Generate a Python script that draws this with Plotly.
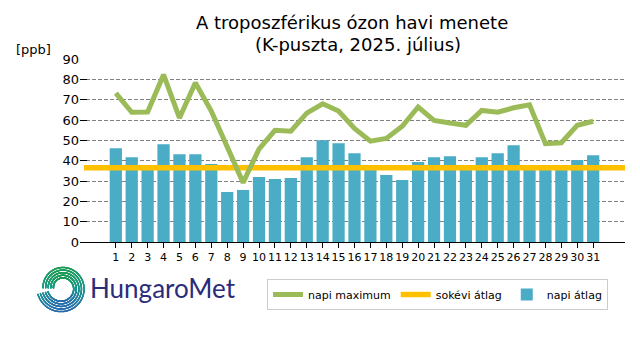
import numpy as np
import plotly.graph_objects as go

# ---- data ----
days = list(range(1, 32))
daily_max = [73.2, 63.8, 63.9, 82.3, 61.0, 78.3, 64.4, 46.8, 29.2, 45.7, 54.9,
             54.5, 63.4, 68.0, 64.4, 55.8, 49.6, 50.9, 56.9, 66.4, 59.8, 58.5,
             57.4, 64.7, 63.8, 66.0, 67.5, 48.4, 48.8, 57.4, 59.4]
daily_avg = [46.1, 41.7, 36.8, 48.1, 43.2, 43.2, 38.3, 24.6, 25.6, 32.0, 31.0,
             31.5, 41.7, 50.1, 48.6, 43.7, 35.5, 32.9, 30.5, 39.3, 41.7, 42.2,
             36.5, 41.7, 43.7, 47.6, 36.5, 36.0, 36.3, 40.3, 42.7]
long_term_avg = 36.5
series_names = ["napi maximum", "sokévi átlag", "napi átlag"]
title_lines = ["A troposzférikus ózon havi menete", "(K-puszta, 2025. július)"]
y_ticks = list(range(0, 100, 10))

W, H = 640, 360
FONT = "DejaVu Sans"
GREEN = "#9bbb59"
ORANGE = "#ffc000"
BLUE = "#4bacc6"

def px_x(p):
    return p / W

def px_y(p):
    return 1 - p / H

fig = go.Figure()

fig.add_trace(go.Bar(
    x=days, y=daily_avg, name=series_names[2], marker_color=BLUE,
    marker_line_width=0, legendrank=3,
))
fig.add_trace(go.Scatter(
    x=[days[0] - 2, days[-1] + 2], y=[long_term_avg, long_term_avg],
    mode="lines", name=series_names[1], line=dict(color=ORANGE, width=5.5),
    legendrank=2,
))
fig.add_trace(go.Scatter(
    x=days, y=daily_max, mode="lines", name=series_names[0],
    line=dict(color=GREEN, width=5), legendrank=1,
))

# ---- logo spiral (decoration) ----
cx, cy = 62.0, 288.0
lx, ly, lc = [], [], []
theta = np.linspace(np.pi * 1.0, -np.pi * 0.92, 500)
frac = (theta - theta[0]) / (theta[-1] - theta[0])
for i in range(5):
    r = 8.5 + 2.6 * i + 6.0 * frac
    xs = cx + r * np.cos(theta)
    ys = cy - r * np.sin(theta)
    lx.extend(xs.tolist())
    ly.extend(ys.tolist())
    lc.extend((-np.sin(theta)).tolist())
fig.add_trace(go.Scatter(
    x=lx, y=ly, mode="markers", xaxis="x2", yaxis="y2", showlegend=False,
    hoverinfo="skip",
    marker=dict(size=1.5, color=lc, cmin=-1, cmax=1,
                colorscale=[[0, "#1e9b57"], [0.5, "#1b9a8c"], [1, "#2a6fae"]],
                line_width=0),
))

fig.update_layout(
    width=W, height=H,
    margin=dict(l=0, r=0, t=0, b=0, autoexpand=False),
    paper_bgcolor="white", plot_bgcolor="white",
    font=dict(family=FONT, color="black"),
    bargap=0.23,
    showlegend=True,
    legend=dict(
        orientation="h", x=px_x(267), y=px_y(279), xanchor="left", yanchor="top",
        bordercolor="#cccccc", borderwidth=1, font=dict(size=11, family=FONT),
        traceorder="normal", itemwidth=30, bgcolor="white",
    ),
    xaxis=dict(
        domain=[px_x(80), px_x(625)], range=[-1.25, 33.0],
        tickvals=days, ticktext=[str(d) for d in days], tickangle=0,
        showline=True, linecolor="black", linewidth=1.3,
        ticks="outside", ticklen=5, tickcolor="black",
        tickfont=dict(size=11), showgrid=False, zeroline=False,
        automargin=False, fixedrange=True,
    ),
    yaxis=dict(
        domain=[px_y(242), px_y(59)], range=[0, 90],
        tickvals=y_ticks, tickfont=dict(size=13),
        ticks="inside", ticklen=7, tickcolor="black",
        showgrid=True, gridcolor="#808080", griddash="4px,2px", gridwidth=1,
        showline=False, zeroline=False, automargin=False,
    ),
    xaxis2=dict(domain=[px_x(30), px_x(100)], range=[30, 100], visible=False,
                fixedrange=True),
    yaxis2=dict(domain=[px_y(320), px_y(255)], range=[320, 255], visible=False,
                fixedrange=True),
    annotations=[
        dict(text=title_lines[0], x=px_x(352), y=px_y(22), xref="paper", yref="paper",
             showarrow=False, xanchor="center", yanchor="middle",
             font=dict(size=18, family=FONT)),
        dict(text=title_lines[1], x=px_x(358), y=px_y(44), xref="paper", yref="paper",
             showarrow=False, xanchor="center", yanchor="middle",
             font=dict(size=18, family=FONT)),
        dict(text="[ppb]", x=px_x(33), y=px_y(50), xref="paper", yref="paper",
             showarrow=False, xanchor="center", yanchor="middle",
             font=dict(size=13, family=FONT)),
        dict(text="HungaroMet", x=px_x(88), y=px_y(288), xref="paper", yref="paper",
             showarrow=False, xanchor="left", yanchor="middle",
             font=dict(size=26, family="Lato", color="#2b2c7a")),
    ],
)

fig.write_html("out.html", config={"displayModeBar": False},
               post_script="document.body.style.margin='0';document.body.style.padding='0';")
